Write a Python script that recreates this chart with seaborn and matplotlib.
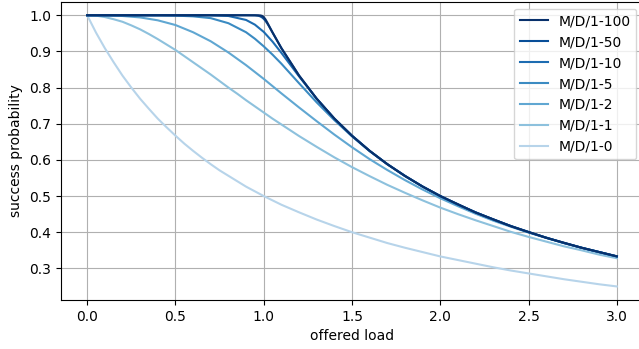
import numpy as np
import pandas as pd
import matplotlib
matplotlib.use("Agg")
import matplotlib.pyplot as plt
import seaborn as sns

# offered load grids
x_half = [0.0, 0.05, 0.1, 0.15, 0.2, 0.25, 0.3, 0.35, 0.4, 0.45, 0.5, 0.55,
          0.6, 0.65, 0.7, 0.75, 0.8, 0.85, 0.9, 0.95, 1.0, 1.05,
          1.1, 1.2, 1.3, 1.4, 1.5, 1.6, 1.7, 1.8, 1.9, 2.0, 2.1, 2.2, 2.3,
          2.4, 2.5, 2.6, 2.7, 2.8, 2.9, 3.0]
x_coarse = [0.0, 0.1, 0.2, 0.3, 0.4, 0.5, 0.6, 0.7, 0.8, 0.9, 0.95, 1.0, 1.05,
            1.1, 1.2, 1.3, 1.4, 1.5, 1.6, 1.7, 1.8, 1.9, 2.0, 2.1, 2.2, 2.3,
            2.4, 2.5, 2.6, 2.7, 2.8, 2.9, 3.0]
x_fine = [0.0, 0.5, 0.8, 0.9, 0.95, 0.97, 0.98, 0.99, 1.0, 1.01, 1.02, 1.03,
          1.05, 1.1, 1.2, 1.3, 1.4, 1.5, 1.6, 1.7, 1.8, 1.9, 2.0, 2.2, 2.4,
          2.6, 2.8, 3.0]

# success probability per buffer size
p_k0 = [1.000, 0.952, 0.909, 0.870, 0.833, 0.800, 0.769, 0.741, 0.714, 0.690,
        0.667, 0.645, 0.625, 0.606, 0.588, 0.571, 0.556, 0.541, 0.526, 0.513,
        0.500, 0.488,
        0.476, 0.455, 0.435, 0.417, 0.400, 0.385, 0.370, 0.357, 0.345, 0.333,
        0.323, 0.313, 0.303, 0.294, 0.286, 0.278, 0.270, 0.263, 0.256, 0.250]
p_k1 = [1.000, 0.999, 0.995, 0.989, 0.982, 0.972, 0.961, 0.948, 0.934, 0.919,
        0.904, 0.887, 0.870, 0.853, 0.836, 0.818, 0.800, 0.783, 0.765, 0.748,
        0.731, 0.714,
        0.698, 0.666, 0.636, 0.607, 0.580, 0.555, 0.531, 0.509, 0.488, 0.468,
        0.450, 0.433, 0.417, 0.401, 0.387, 0.374, 0.361, 0.350, 0.338, 0.328]
p_k2 = [1.000, 1.000, 0.998, 0.994, 0.986, 0.973, 0.953, 0.928, 0.897, 0.862,
        0.843, 0.824, 0.804, 0.784, 0.745, 0.707, 0.670, 0.635, 0.602, 0.572,
        0.544, 0.518, 0.494, 0.472, 0.451, 0.432, 0.415, 0.399, 0.384, 0.370,
        0.357, 0.344, 0.333]
p_k5 = [1.000, 1.000, 1.000, 1.000, 1.000, 0.999, 0.997, 0.992, 0.978, 0.953,
        0.935, 0.914, 0.891, 0.866, 0.812, 0.759, 0.710, 0.665, 0.624, 0.588,
        0.555, 0.526, 0.500, 0.476, 0.455, 0.435, 0.417, 0.400, 0.385, 0.370,
        0.357, 0.345, 0.333]
p_k10 = [1.000, 1.000, 1.000, 1.000, 1.000, 1.000, 1.000, 1.000, 0.998, 0.987,
         0.974, 0.954, 0.927, 0.896, 0.831, 0.769, 0.714, 0.667, 0.625, 0.588,
         0.556, 0.526, 0.500, 0.476, 0.455, 0.435, 0.417, 0.400, 0.385, 0.370,
         0.357, 0.345, 0.333]
p_k50 = [1.000, 1.000, 1.000, 1.000, 0.9997, 0.9985, 0.9970, 0.9943, 0.9902,
         0.9845, 0.9774, 0.9694, 0.9521, 0.9091, 0.8333, 0.7692, 0.7143, 0.6667,
         0.6250, 0.5882, 0.5556, 0.5263, 0.5000, 0.4545, 0.4167, 0.3846, 0.3571,
         0.3333]
p_k100 = [1.000, 1.000, 1.000, 1.000, 1.000, 0.9999, 0.9996, 0.9985, 0.9950,
          0.9886, 0.9800, 0.9708, 0.9524, 0.9091, 0.8333, 0.7692, 0.7143, 0.6667,
          0.6250, 0.5882, 0.5556, 0.5263, 0.5000, 0.4545, 0.4167, 0.3846, 0.3571,
          0.3333]

labels = ["M/D/1-0", "M/D/1-1", "M/D/1-2", "M/D/1-5", "M/D/1-10",
          "M/D/1-50", "M/D/1-100"]
series = [(x_half, p_k0), (x_half, p_k1), (x_coarse, p_k2),
          (x_coarse, p_k5), (x_coarse, p_k10), (x_fine, p_k50),
          (x_fine, p_k100)]

cmap = matplotlib.colormaps["Blues"]
colors = [cmap(v) for v in np.linspace(0.3, 1.0, len(labels))]

fig = plt.figure(figsize=(6.39, 3.49), dpi=100)
ax = fig.add_axes([60.7 / 639, 49 / 349, (643.3 - 60.7) / 639, (300 - 1.7) / 349])

for (xs, ys), lab, col in zip(series, labels, colors):
    df = pd.DataFrame({"offered load": xs, "success probability": ys})
    sns.lineplot(data=df, x="offered load", y="success probability", ax=ax,
                 color=col, label=lab, linewidth=1.5, legend=False)

ax.grid(True)
ax.set_xticks([0.0, 0.5, 1.0, 1.5, 2.0, 2.5, 3.0])
ax.set_yticks([0.3, 0.4, 0.5, 0.6, 0.7, 0.8, 0.9, 1.0])
ax.set_xlim(-0.15, 3.15)
ax.set_ylim(0.2125, 1.0375)
ax.set_xlabel("offered load")
ax.set_ylabel("success probability")

handles, labs = ax.get_legend_handles_labels()
ax.legend(handles[::-1], labs[::-1], loc="upper right")

fig.savefig("out.png", dpi=100)
